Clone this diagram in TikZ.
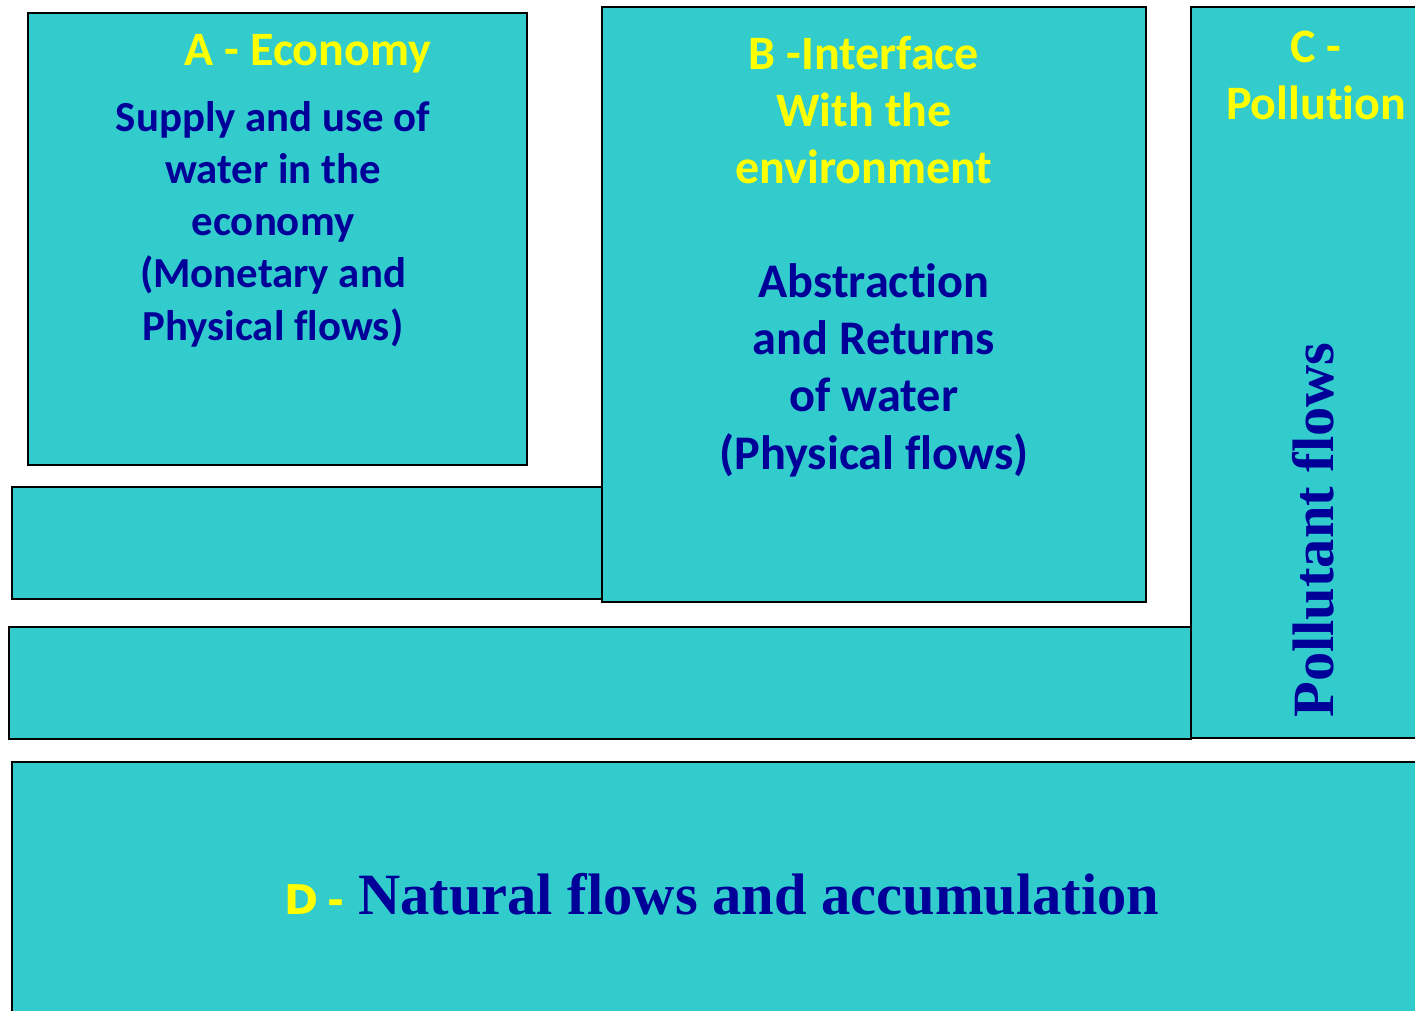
\documentclass[tikz,border=0pt]{standalone}
\usepackage{fontspec}
\setmainfont{Carlito}[Ligatures={NoCommon}]
\newfontfamily\timesbf{Liberation Serif}[BoldFont={* Bold}]
\newfontfamily\dejabf{DejaVu Sans}[BoldFont={DejaVu Sans Bold}]
\definecolor{teal1}{HTML}{33CCCC}
\definecolor{navy1}{HTML}{000099}
\definecolor{yell1}{HTML}{FFFF00}
\tikzset{
  box/.style={draw=black, line width=2pt, fill=teal1, rectangle, inner sep=0pt, anchor=north west},
  ttl/.style={text=yell1, font=\bfseries\fontsize{48}{57}\selectfont, align=center, inner sep=0pt},
  bodyA/.style={text=navy1, font=\bfseries\fontsize{42.8}{52.3}\selectfont, align=center, inner sep=0pt},
  bodyB/.style={text=navy1, font=\bfseries\fontsize{48.3}{57.3}\selectfont, align=center, inner sep=0pt},
  serifnavy/.style={text=navy1, font=\timesbf\bfseries\fontsize{58.5}{60}\selectfont, inner sep=0pt}
}
\begin{document}
\begin{tikzpicture}[x=1pt,y=-1pt]
\useasboundingbox (0,0) rectangle (1415,1011);
\clip (0,0) rectangle (1415,1011);
% boxes
\node[box, minimum width=1430pt, minimum height=270pt] (D) at (11,761) {};
\node[box, minimum width=1182pt, minimum height=112pt] (S2) at (8,626) {};
\node[box, minimum width=240pt, minimum height=731pt] (C) at (1190,6) {};
\node[box, minimum width=590pt, minimum height=112pt] (S1) at (11,486) {};
\node[box, minimum width=499pt, minimum height=452pt] (A) at (27,12) {};
\node[box, minimum width=544pt, minimum height=595pt] (B) at (601,6) {};
% texts
\node[ttl] (At) at (308,54) {A - Economy};
\node[bodyA] (Ab) at (273,224) {Supply and use of\\water in the\\economy\\(Monetary and\\Physical flows)};
\node[ttl] (Bt) at (864,110) {B -Interface\\With the\\environment};
\node[bodyB] (Bb) at (874,370) {Abstraction\\and Returns\\of water\\(Physical flows)};
\node[ttl] (Ct) at (1316,75) {C -\\Pollution};
\node[serifnavy, rotate=90] (Cb) at (1313,530) {Pollutant flows};
\node[serifnavy, anchor=base west] (Db) at (358,914) {Natural flows and accumulation};
\node[text=yell1, font=\dejabf\bfseries\fontsize{41}{44}\selectfont, inner sep=0pt, anchor=base west] (Dt) at (284,914) {D\kern9pt-};
\end{tikzpicture}
\end{document}
